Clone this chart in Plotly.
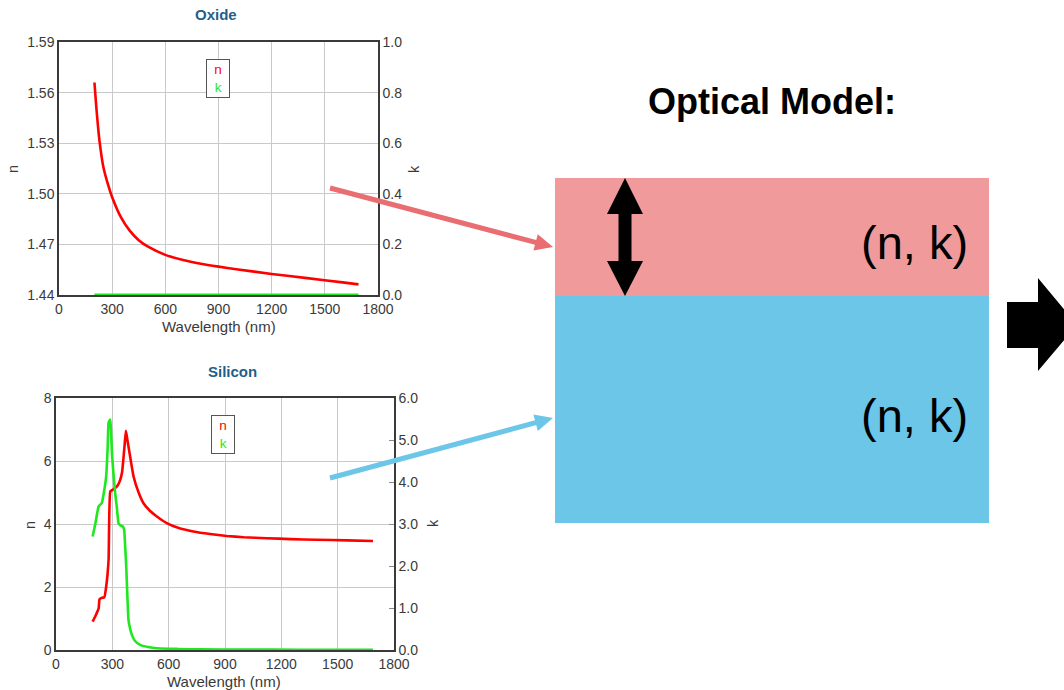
import math
import plotly.graph_objects as go

# ---- Oxide (SiO2) optical constants ----
oxide_wl = [200, 210, 220, 230, 250, 275, 300, 350, 400, 450, 500, 600, 700,
            800, 900, 1000, 1200, 1400, 1600, 1690]
oxide_n = [1.566, 1.552, 1.540, 1.530, 1.516, 1.506, 1.498, 1.486, 1.478,
           1.4725, 1.4688, 1.4638, 1.4607, 1.4585, 1.4568, 1.4553, 1.4525, 1.4500,
           1.4475, 1.4463]
oxide_k = [0.0] * len(oxide_wl)

# ---- Silicon optical constants ----
si_n_wl = [195, 210, 227, 232, 245, 257, 267, 280, 289, 300, 315, 330, 342, 352,
           360, 366, 372, 378, 386, 400, 413, 440, 466, 500, 537, 590, 650, 732,
           820, 909, 1000, 1121, 1250, 1387, 1550, 1688]
si_n = [0.90, 1.08, 1.32, 1.61, 1.66, 1.67, 2.00, 2.86, 5.03, 5.08, 5.14, 5.24,
        5.40, 5.65, 6.14, 6.55, 6.96, 6.75, 6.46, 5.95, 5.51, 5.00, 4.66, 4.42,
        4.24, 4.03, 3.88, 3.76, 3.68, 3.62, 3.58, 3.55, 3.52, 3.50, 3.48, 3.46]
si_k_wl = [195, 210, 227, 244, 255, 267, 275, 280, 289, 293, 298, 306, 315, 325,
           333, 345, 356, 363, 368, 374, 380, 386, 395, 404, 420, 448, 490, 537,
           650, 767, 1000, 1300, 1688]
si_k = [2.70, 3.02, 3.42, 3.50, 3.75, 4.13, 4.80, 5.41, 5.49, 5.20, 4.69, 4.20,
        3.74, 3.35, 3.02, 2.96, 2.94, 2.86, 2.50, 1.99, 1.30, 0.72, 0.50, 0.36,
        0.22, 0.12, 0.07, 0.04, 0.025, 0.015, 0.01, 0.007, 0.005]

W, H = 1064, 690
FONT = "Liberation Sans, Arial, Helvetica, sans-serif"
RED = "#ff0000"
GREEN = "#1ee81e"
GRID = "#c9c9c9"
FRAME = "#3a3a3a"
TICKC = "#3a3a3a"


def X(px):
    return px / W


def Y(py):
    return 1 - py / H


fig = go.Figure()

fig.add_trace(go.Scatter(x=oxide_wl, y=oxide_n, mode="lines", line=dict(color=RED, width=2.6, shape="spline", smoothing=0.5),
                         xaxis="x", yaxis="y", showlegend=False))
fig.add_trace(go.Scatter(x=oxide_wl, y=oxide_k, mode="lines", line=dict(color=GREEN, width=3),
                         xaxis="x", yaxis="y2", showlegend=False))
fig.add_trace(go.Scatter(x=si_n_wl, y=si_n, mode="lines", line=dict(color=RED, width=2.6, shape="spline", smoothing=0.4),
                         xaxis="x2", yaxis="y3", showlegend=False))
fig.add_trace(go.Scatter(x=si_k_wl, y=si_k, mode="lines", line=dict(color=GREEN, width=2.6, shape="spline", smoothing=0.4),
                         xaxis="x2", yaxis="y4", showlegend=False))

tickfont = dict(family=FONT, size=14, color=TICKC)
xcommon = dict(range=[0, 1800], dtick=300, tick0=0, showgrid=True, gridcolor=GRID, gridwidth=1,
               showline=True, linecolor=FRAME, linewidth=1.5, mirror=True, ticks="",
               tickfont=tickfont, zeroline=False, fixedrange=True, layer="below traces",
               automargin=False)
ycommon = dict(showline=True, linecolor=FRAME, linewidth=1.5, tickfont=tickfont, zeroline=False,
               layer="below traces", automargin=False, fixedrange=True)

fig.update_layout(
    template="none",
    width=W, height=H,
    margin=dict(l=0, r=0, t=0, b=0, pad=0, autoexpand=False),
    paper_bgcolor="white", plot_bgcolor="white",
    font=dict(family=FONT, color=TICKC),
    xaxis=dict(domain=[X(59), X(378)], anchor="y", **xcommon),
    yaxis=dict(domain=[Y(295), Y(42)], anchor="x", range=[1.44, 1.59], dtick=0.03, tick0=1.44,
               tickformat=".2f", showgrid=True, gridcolor=GRID, ticks="", **ycommon),
    yaxis2=dict(overlaying="y", side="right", anchor="x", range=[0, 1.0], dtick=0.2, tick0=0,
                tickformat=".1f", showgrid=False, ticks="", **ycommon),
    xaxis2=dict(domain=[X(56), X(394)], anchor="y3", **xcommon),
    yaxis3=dict(domain=[Y(650), Y(398)], anchor="x2", range=[0, 8], dtick=2, tick0=0,
                showgrid=True, gridcolor=GRID, ticks="", **ycommon),
    yaxis4=dict(overlaying="y3", side="right", anchor="x2", range=[0, 6], dtick=1, tick0=0,
                tickformat=".1f", showgrid=False, ticks="inside", ticklen=5, tickcolor="#8a8a8a",
                tickwidth=1, **ycommon),
)

ann = []


def text(px, py, s, size=12, color=TICKC, bold=False, angle=0, xanchor="center", yanchor="middle", **kw):
    if bold:
        s = "<b>" + s + "</b>"
    ann.append(dict(x=X(px), y=Y(py), xref="paper", yref="paper", text=s, showarrow=False,
                    font=dict(family=FONT, size=size, color=color), textangle=angle,
                    xanchor=xanchor, yanchor=yanchor, **kw))


# chart titles and axis titles
text(216, 15, "Oxide", size=15, color="#1f5f8a", bold=True)
text(232, 371, "Silicon", size=15, color="#1f5f8a", bold=True)
text(219, 326, "Wavelength (nm)", size=15)
text(224, 681, "Wavelength (nm)", size=15)
text(13, 169, "n", size=14.5, angle=-90)
text(414, 169, "k", size=14.5, angle=-90)
text(30, 525, "n", size=14.5, angle=-90)
text(433, 523, "k", size=14.5, angle=-90)

# in-plot legends
legend_txt = ("<span style='color:%s'>n</span><br><span style='color:%s'>k</span>" % (RED, GREEN))
for cx, cy in [(218, 78), (223, 434)]:
    ann.append(dict(x=X(cx), y=Y(cy), xref="paper", yref="paper", text=legend_txt, showarrow=False,
                    font=dict(family=FONT, size=13.5), align="center", bordercolor="#555555",
                    borderwidth=1, borderpad=2, bgcolor="white", width=18, height=33,
                    xanchor="center", yanchor="middle"))

# optical model labels
text(772, 101, "Optical Model:", size=36, color="black", bold=True)
text(970, 242, "(n, k)", size=47, color="black", xanchor="right")
text(970, 415, "(n, k)", size=47, color="black", xanchor="right")

fig.update_layout(annotations=ann)

shapes = []


def poly(points, color):
    d = "M " + " L ".join("%.5f,%.5f" % (X(a), Y(b)) for a, b in points) + " Z"
    shapes.append(dict(type="path", path=d, xref="paper", yref="paper",
                       fillcolor=color, line=dict(width=0), layer="above"))


# layer stack
shapes.append(dict(type="rect", xref="paper", yref="paper", x0=X(555), x1=X(989), y0=Y(296), y1=Y(178),
                   fillcolor="#f09a9b", line=dict(width=0), layer="below"))
shapes.append(dict(type="rect", xref="paper", yref="paper", x0=X(555), x1=X(989), y0=Y(523), y1=Y(296),
                   fillcolor="#6bc6e8", line=dict(width=0), layer="below"))

# thickness double arrow
poly([(625, 178), (643, 214), (631.5, 214), (631.5, 261), (643, 261), (625, 296),
      (607, 261), (618.5, 261), (618.5, 214), (607, 214)], "black")

# big right arrow
poly([(1007, 302), (1038, 302), (1038, 278), (1077, 325), (1038, 371), (1038, 348), (1007, 348)], "black")


def connector(x0, y0, x1, y1, color):
    dx, dy = x1 - x0, y1 - y0
    L = math.hypot(dx, dy)
    ux, uy = dx / L, dy / L
    nx, ny = -uy, ux
    hl, hw = 18, 8.5
    bx, by = x1 - ux * hl, y1 - uy * hl
    shapes.append(dict(type="line", xref="paper", yref="paper", x0=X(x0), y0=Y(y0),
                       x1=X(bx + ux * 2), y1=Y(by + uy * 2), line=dict(color=color, width=5), layer="above"))
    poly([(x1, y1), (bx + nx * hw, by + ny * hw), (bx - nx * hw, by - ny * hw)], color)


connector(330, 188, 553, 247, "#e86e72")
connector(330, 478, 553, 418, "#6bc6e8")

fig.update_layout(shapes=shapes)

fig.write_html("out.html")
